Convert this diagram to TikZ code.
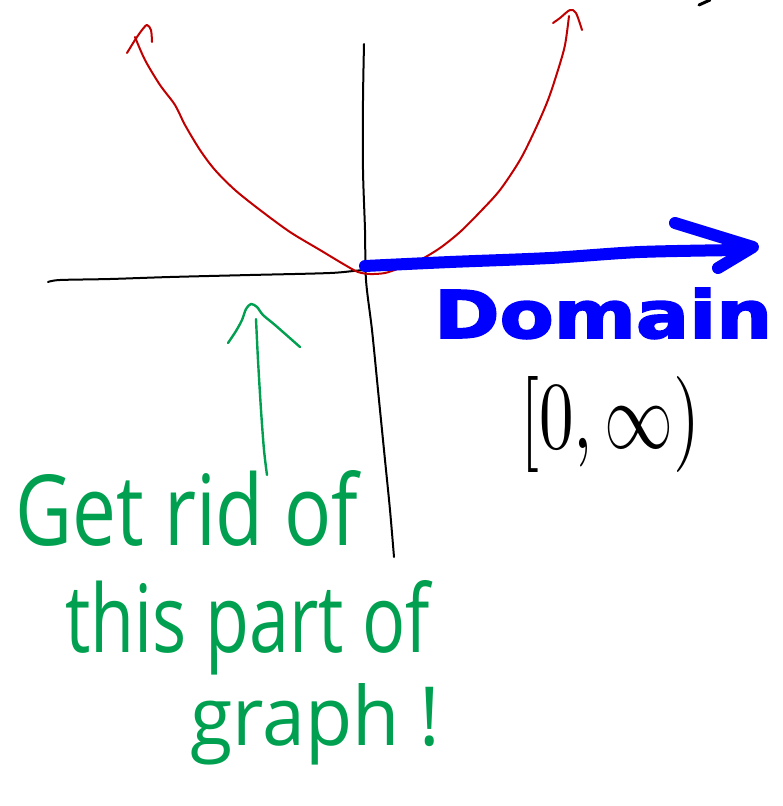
\documentclass[tikz,border=0pt]{standalone}
\usepackage{fontspec}
\usepackage{graphicx}
\setmainfont{Open Sans}
\newfontfamily\boldfam[FakeBold=2.5]{DejaVu Sans Bold}
\definecolor{penred}{HTML}{C00000}
\definecolor{penblue}{HTML}{0000FF}
\definecolor{pengreen}{HTML}{00A050}
\begin{document}
\begin{tikzpicture}[x=1pt,y=-1pt,
  pen/.style={line width=2pt,line cap=round,line join=round},
  redpen/.style={pen,draw=penred},
  greenpen/.style={pen,draw=pengreen,line width=2.4pt},
  blackpen/.style={pen,draw=black},
  bluepen/.style={line width=12pt,line cap=round,line join=round,draw=penblue},
  lbl/.style={inner sep=0pt,anchor=base west}]
\useasboundingbox (0,0) rectangle (783,806);
% axes
\draw[blackpen] plot[smooth] coordinates {(48,282) (60,280) (110,279) (170,277) (250,275) (330,273) (365,270) (430,267) (500,264)};
\draw[blackpen] plot[smooth] coordinates {(364,44) (363,100) (363,170) (365,230) (366,280) (372,330) (378,390) (385,460) (390,510) (394,557)};
% parabola
\draw[redpen] plot[smooth] coordinates {(135,37) (145,60) (160,85) (175,105) (185,125) (200,150) (215,170) (235,190) (260,210) (290,232) (320,250) (345,265) (358,272) (370,274) (385,273) (400,268) (420,260) (440,248) (460,232) (480,212) (500,190) (520,160) (535,130) (548,100) (558,70) (565,45) (569,16)};
\draw[redpen] plot[smooth] coordinates {(127,53) (135,40) (142,30) (147,25) (151,30) (152,42)};
\draw[redpen] plot[smooth] coordinates {(553,23) (560,18) (570,10) (576,13) (582,30)};
% domain arrow
\draw[bluepen] plot[smooth] coordinates {(365,266) (450,262) (550,258) (640,252) (740,250)};
\draw[bluepen] (675,223) -- (753,247) -- (718,268);
% top-right mark
\draw[blackpen,line width=3pt] (699,5) -- (710,0);
% green arrow
\draw[greenpen] plot[smooth] coordinates {(256,319) (258,360) (261,410) (264,450) (267,475)};
\draw[greenpen] plot[smooth] coordinates {(228,343) (236,331) (242,320) (246,309) (251,304) (257,307) (263,315) (275,325) (300,347)};
% texts
\node[lbl] (dom) at (434,338) {\resizebox{338pt}{50pt}{\color{penblue}\boldfam Domain}};
\node[lbl,anchor=south west] (int) at (520,473) {\resizebox*{180pt}{96pt}{$[0,\infty)$}};
\node[lbl] (g1) at (15,545) {\resizebox{343pt}{75pt}{\color{pengreen}Get rid of}};
\node[lbl] (g2) at (65,652) {\resizebox{365pt}{72pt}{\color{pengreen}this part of}};
\node[lbl] (g3) at (190,745) {\resizebox{250pt}{62pt}{\color{pengreen}graph !}};
\end{tikzpicture}
\end{document}
